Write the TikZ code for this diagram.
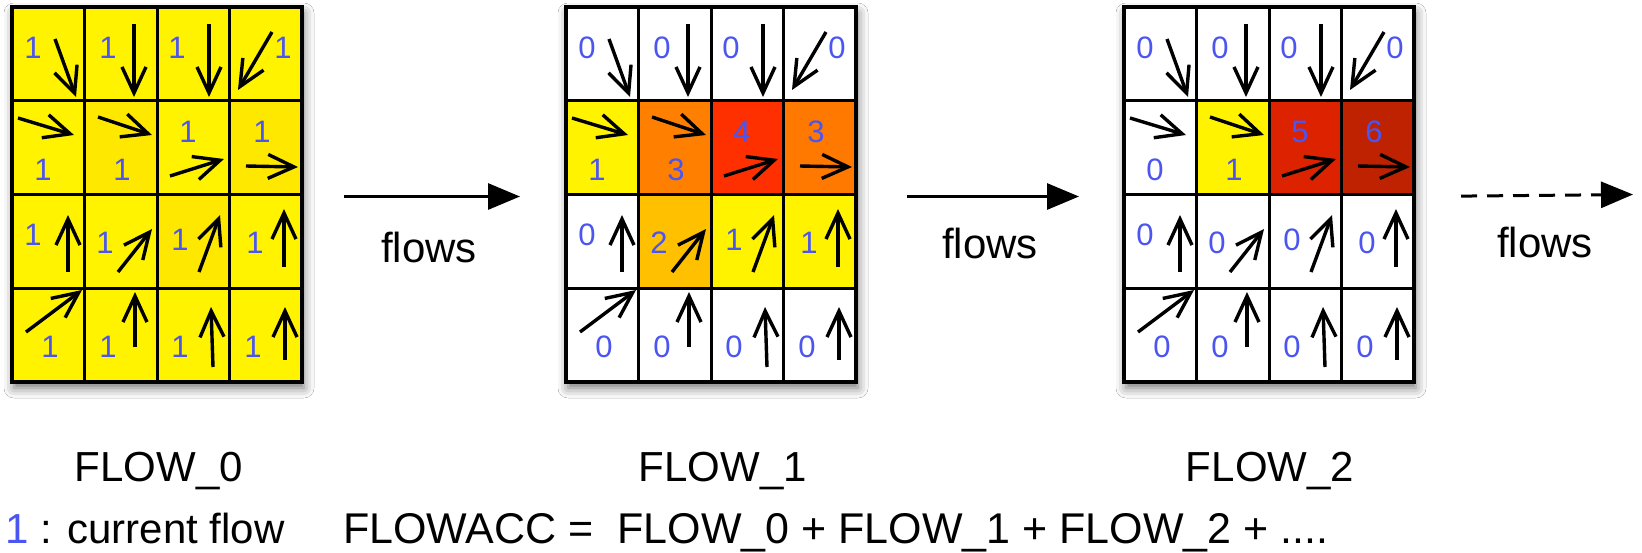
\documentclass[tikz,border=0pt]{standalone}
\usepackage{fontspec}
\setmainfont{Liberation Sans}
\usetikzlibrary{arrows.meta,shadows.blur}
\definecolor{numblue}{RGB}{75,85,240}
\definecolor{cY}{RGB}{255,243,0}
\definecolor{cYd}{RGB}{255,232,0}
\definecolor{cO}{RGB}{255,128,0}
\definecolor{cOb}{RGB}{255,120,0}
\definecolor{cR}{RGB}{255,48,0}
\definecolor{cOY}{RGB}{255,192,0}
\definecolor{cRt}{RGB}{221,34,0}
\definecolor{cDR}{RGB}{190,34,0}
\def\numxs{{21,96,165,271,31,110,176,250,21,93,168,243,38,96,168,241}}
\def\numys{{41,41,41,41,163,163,125,125,228,236,233,236,340,340,340,340}}
\newcommand\drawflowgrid[4]{%
  \node[gridbox] (#1) at (#2,7) {};
  \begin{scope}[shift={(#2,7)}]
    \foreach \f [count=\k from 0] in {#3} {
      \pgfmathtruncatemacro\cc{mod(\k,4)}
      \pgfmathtruncatemacro\rr{div(\k,4)}
      \fill[fill=\f] (\cc*72.5,\rr*93.75) rectangle ++(72.5,93.75);
    }
    \foreach \i in {1,2,3} {
      \draw[line width=3pt] (\i*72.5,0) -- (\i*72.5,375);
      \draw[line width=3pt] (0,\i*93.75) -- (290,\i*93.75);
    }
    \draw[line width=4pt] (0,0) rectangle (290,375);
    \foreach \v [count=\k from 0] in {#4} {
      \pgfmathsetmacro\nx{\numxs[\k]}
      \pgfmathsetmacro\ny{\numys[\k]}
      \node[cellnum] at (\nx,\ny) {\v};
    }
    \foreach \a/\b/\c/\d in {43/32/64/90, 122/17/122/90, 197/17/197/90, 260/25/226/83,
      6/111/62/128, 86/110/140/128, 158/169/212/152, 234/159/286/160,
      56/265/56/208, 106/265/140/222, 187/265/208/208, 272/260/272/202,
      14/325/70/283, 123/340/123/285, 201/360/199/300, 273/353/273/300}
      \draw[cellarr] (\a,\b) -- (\c,\d);
  \end{scope}
}
\begin{document}
\begin{tikzpicture}[x=1pt,y=-1pt,
  cellnum/.style={text=numblue, font=\fontsize{31}{36}\selectfont, inner sep=0pt},
  lbl/.style={font=\fontsize{42}{50}\selectfont, inner sep=0pt},
  cellarr/.style={line width=3.4pt, -{Straight Barb[length=26pt,width=24pt]}},
  gridbox/.style={line width=4pt, minimum width=290pt, minimum height=375pt, inner sep=0pt,
    anchor=north west, fill=white,
    blur shadow={shadow xshift=0pt, shadow yshift=-4pt, shadow blur radius=10pt, shadow opacity=55}},
  flowarr/.style={line width=3pt, -{Triangle[length=32pt,width=26pt]}},
]
\useasboundingbox (0,0) rectangle (1642,552);
\fill[white] (0,0) rectangle (1642,552);

\drawflowgrid{g0}{12}{cY,cY,cY,cY, cY,cYd,cY,cYd, cY,cY,cYd,cY, cY,cY,cY,cY}{1,1,1,1,1,1,1,1,1,1,1,1,1,1,1,1}
\drawflowgrid{g1}{566}{white,white,white,white, cY,cO,cR,cOb, white,cOY,cY,cY, white,white,white,white}{0,0,0,0,1,3,4,3,0,2,1,1,0,0,0,0}
\drawflowgrid{g2}{1124}{white,white,white,white, white,cY,cRt,cDR, white,white,white,white, white,white,white,white}{0,0,0,0,0,1,5,6,0,0,0,0,0,0,0,0}

\coordinate (end3) at (1633,194.5);
\draw[flowarr, shorten <=38pt, shorten >=46pt] (g0.east) -- (g1.west);
\draw[flowarr, shorten <=47pt, shorten >=45pt] (g1.east) -- (g2.west);
\draw[flowarr, dash pattern=on 16pt off 10pt, shorten <=43pt] (g2.east) -- (end3);

\node[lbl, anchor=base] (fl1) at (429,262) {flows};
\node[lbl, anchor=base] (fl2) at (990,258) {flows};
\node[lbl, anchor=base] (fl3) at (1545,257) {flows};

\node[lbl, anchor=base] (t0) at (159,481) {FLOW\_0};
\node[lbl, anchor=base] (t1) at (723,481) {FLOW\_1};
\node[lbl, anchor=base] (t2) at (1270,481) {FLOW\_2};

\node[lbl, anchor=base west] (legend) at (5,543) {{\color{numblue}1} : current flow};
\node[lbl, font=\fontsize{43}{50}\selectfont, anchor=base west] (acc) at (343,543) {FLOWACC =\ \ FLOW\_0 + FLOW\_1 + FLOW\_2 + ....};
\end{tikzpicture}
\end{document}
